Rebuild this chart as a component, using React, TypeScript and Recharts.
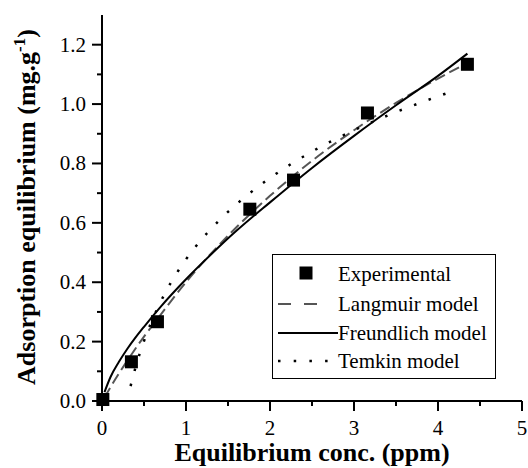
import React from 'react';
import { ComposedChart, Line, Scatter, XAxis, YAxis, Legend } from 'recharts';

// Measured adsorption capacity (mg/g) versus equilibrium concentration (ppm)
const experimental = [
  { c: 0.01, q: 0.005 },
  { c: 0.35, q: 0.132 },
  { c: 0.66, q: 0.267 },
  { c: 1.76, q: 0.646 },
  { c: 2.28, q: 0.744 },
  { c: 3.16, q: 0.97 },
  { c: 4.35, q: 1.134 },
];

// Fitted isotherm curves
const langmuir = [
  { c: 0.03, q: 0.012 },
  { c: 0.1, q: 0.046 },
  { c: 0.2, q: 0.092 },
  { c: 0.33, q: 0.148 },
  { c: 0.5, q: 0.217 },
  { c: 0.67, q: 0.28 },
  { c: 1.0, q: 0.4 },
  { c: 1.3, q: 0.497 },
  { c: 1.6, q: 0.585 },
  { c: 2.0, q: 0.691 },
  { c: 2.5, q: 0.809 },
  { c: 3.0, q: 0.912 },
  { c: 3.5, q: 1.004 },
  { c: 4.0, q: 1.086 },
  { c: 4.3, q: 1.131 },
];

const freundlich = [
  { c: 0.03, q: 0.03 },
  { c: 0.1, q: 0.08 },
  { c: 0.2, q: 0.131 },
  { c: 0.3, q: 0.175 },
  { c: 0.4, q: 0.214 },
  { c: 0.5, q: 0.25 },
  { c: 0.7, q: 0.318 },
  { c: 1.0, q: 0.41 },
  { c: 1.3, q: 0.494 },
  { c: 1.6, q: 0.573 },
  { c: 2.0, q: 0.669 },
  { c: 2.5, q: 0.785 },
  { c: 3.0, q: 0.893 },
  { c: 3.5, q: 0.996 },
  { c: 4.0, q: 1.095 },
  { c: 4.35, q: 1.17 },
];

const temkin = [
  { c: 0.34, q: 0.05 },
  { c: 0.4, q: 0.114 },
  { c: 0.5, q: 0.202 },
  { c: 0.6, q: 0.274 },
  { c: 0.75, q: 0.363 },
  { c: 1.0, q: 0.477 },
  { c: 1.25, q: 0.565 },
  { c: 1.5, q: 0.637 },
  { c: 1.75, q: 0.698 },
  { c: 2.0, q: 0.751 },
  { c: 2.5, q: 0.84 },
  { c: 3.0, q: 0.912 },
  { c: 3.5, q: 0.973 },
  { c: 4.0, q: 1.026 },
  { c: 4.2, q: 1.046 },
];

const xTicks = [0, 0.5, 1, 1.5, 2, 2.5, 3, 3.5, 4, 4.5, 5];
const yTicks = [0, 0.1, 0.2, 0.3, 0.4, 0.5, 0.6, 0.7, 0.8, 0.9, 1.0, 1.1, 1.2];
const yTicksRight = [0.13, 0.26, 0.39, 0.52, 0.65, 0.78, 0.91, 1.04, 1.17];

const legendItems = ['Experimental', 'Langmuir model', 'Freundlich model', 'Temkin model'];

// Regular text and bold titles use separate family names so each resolves on its own
const SERIF_REGULAR = { fontFamily: 'Times New Roman', fontWeight: 400 };
const SERIF_BOLD = { fontFamily: 'Liberation Serif', fontWeight: 700 };
const TICK_FONT = 21;
const MAJOR = 10;
const MINOR = 5;

const isMajorX = (v: number) => Math.abs(v - Math.round(v)) < 1e-6;
const isMajorY = (v: number) => Math.round(v * 10) % 2 === 0;
const isMajorRight = (v: number) => Math.round(v / 0.13) % 2 === 0;

function BottomTick(props: any) {
  const { x, y, payload } = props;
  const v = payload.value;
  const major = isMajorX(v);
  return (
    <g>
      <line x1={x} x2={x} y1={y} y2={y + (major ? MAJOR : MINOR)} stroke="#000" strokeWidth={2} />
      {major && (
        <text x={x} y={y + 34} textAnchor="middle" fontSize={TICK_FONT} style={SERIF_REGULAR} fill="#000">
          {String(v)}
        </text>
      )}
    </g>
  );
}

function TopTick(props: any) {
  const { x, y, payload } = props;
  const major = isMajorX(payload.value);
  return <line x1={x} x2={x} y1={y} y2={y + (major ? MAJOR : MINOR)} stroke="#000" strokeWidth={2} />;
}

function LeftTick(props: any) {
  const { x, y, payload } = props;
  const v = payload.value;
  const major = isMajorY(v);
  return (
    <g>
      <line x1={x - (major ? MAJOR : MINOR)} x2={x} y1={y} y2={y} stroke="#000" strokeWidth={2} />
      {major && (
        <text x={x - 16} y={y + 7} textAnchor="end" fontSize={TICK_FONT} style={SERIF_REGULAR} fill="#000">
          {v.toFixed(1)}
        </text>
      )}
    </g>
  );
}

function RightTick(props: any) {
  const { x, y, payload } = props;
  const major = isMajorRight(payload.value);
  return <line x1={x - (major ? MAJOR : MINOR)} x2={x} y1={y} y2={y} stroke="#000" strokeWidth={2} />;
}

function XTitle(props: any) {
  const { viewBox } = props;
  const cx = viewBox.x + viewBox.width / 2;
  return (
    <text x={cx} y={viewBox.y + 60} textAnchor="middle" fontSize={26} style={SERIF_BOLD} fill="#000">
      Equilibrium conc. (ppm)
    </text>
  );
}

function YTitle(props: any) {
  const { viewBox } = props;
  const cy = viewBox.y + viewBox.height / 2 - 1;
  return (
    <text transform="rotate(-90)" x={-cy} y={35} textAnchor="middle" fontSize={26} style={SERIF_BOLD} fill="#000">
      <tspan>Adsorption equilibrium (mg.g</tspan>
      <tspan dy={-10} fontSize={17}>-1</tspan>
      <tspan dy={10}>)</tspan>
    </text>
  );
}

function Square(props: any) {
  const { cx, cy } = props;
  return <rect x={cx - 6.5} y={cy - 6.5} width={13} height={13} fill="#000" />;
}

function LegendBox() {
  const rows = [19, 49, 78, 106];
  return (
    <div
      style={{
        width: 224,
        height: 125,
        boxSizing: 'border-box',
        border: '1px solid #000',
        background: '#fff',
      }}
    >
      <svg width={222} height={123} style={{ display: 'block' }}>
        <rect x={26.5} y={rows[0] - 7.5} width={13} height={13} fill="#000" />
        <line x1={5} x2={45} y1={rows[1]} y2={rows[1]} stroke="#555" strokeWidth={2} strokeDasharray="13 13" />
        <line x1={5} x2={65} y1={rows[2]} y2={rows[2]} stroke="#000" strokeWidth={2} />
        <line x1={5} x2={56} y1={rows[3]} y2={rows[3]} stroke="#000" strokeWidth={2.5} strokeDasharray="2.5 13.2" />
        {legendItems.map((name, i) => (
          <text key={name} x={65} y={rows[i] + 7} fontSize={21} style={SERIF_REGULAR} fill="#000">
            {name}
          </text>
        ))}
      </svg>
    </div>
  );
}

export default function App() {
  return (
    <div style={{ position: 'absolute', left: 0, top: 0, fontFamily: 'Times New Roman' }}>
      <ComposedChart width={528} height={468} margin={{ top: 15, right: 6, left: 0, bottom: 0 }}>
        <XAxis
          dataKey="c"
          type="number"
          domain={[0, 5]}
          ticks={xTicks}
          interval={0}
          height={67}
          tickSize={0}
          tickMargin={0}
          tickLine={false}
          axisLine={{ stroke: '#000', strokeWidth: 2 }}
          tick={<BottomTick />}
          label={<XTitle />}
        />
        <XAxis
          xAxisId="top"
          orientation="top"
          type="number"
          domain={[0, 5]}
          ticks={xTicks}
          interval={0}
          height={0}
          tickSize={0}
          tickMargin={0}
          tickLine={false}
          axisLine={{ stroke: '#000', strokeWidth: 2 }}
          tick={<TopTick />}
        />
        <YAxis
          dataKey="q"
          type="number"
          domain={[0, 1.3]}
          ticks={yTicks}
          interval={0}
          width={102}
          tickSize={0}
          tickMargin={0}
          tickLine={false}
          axisLine={{ stroke: '#000', strokeWidth: 2 }}
          tick={<LeftTick />}
          label={<YTitle />}
        />
        <YAxis
          yAxisId="right"
          orientation="right"
          type="number"
          domain={[0, 1.3]}
          ticks={yTicksRight}
          interval={0}
          width={0}
          tickSize={0}
          tickMargin={0}
          tickLine={false}
          axisLine={{ stroke: '#000', strokeWidth: 2 }}
          tick={<RightTick />}
        />
        <Line
          data={langmuir}
          dataKey="q"
          type="monotone"
          stroke="#555"
          strokeWidth={2}
          strokeDasharray="11 5"
          dot={false}
          activeDot={false}
          isAnimationActive={false}
        />
        <Line
          data={freundlich}
          dataKey="q"
          type="monotone"
          stroke="#000"
          strokeWidth={2}
          dot={false}
          activeDot={false}
          isAnimationActive={false}
        />
        <Line
          data={temkin}
          dataKey="q"
          type="monotone"
          stroke="#000"
          strokeWidth={2.5}
          strokeDasharray="2.5 13"
          dot={false}
          activeDot={false}
          isAnimationActive={false}
        />
        <Scatter data={experimental} dataKey="q" shape={<Square />} isAnimationActive={false} />
        <Legend
          layout="vertical"
          align="center"
          verticalAlign="middle"
          content={<LegendBox />}
          wrapperStyle={{ position: 'absolute', left: 272, top: 254, width: 224, height: 125 }}
        />
      </ComposedChart>
    </div>
  );
}
